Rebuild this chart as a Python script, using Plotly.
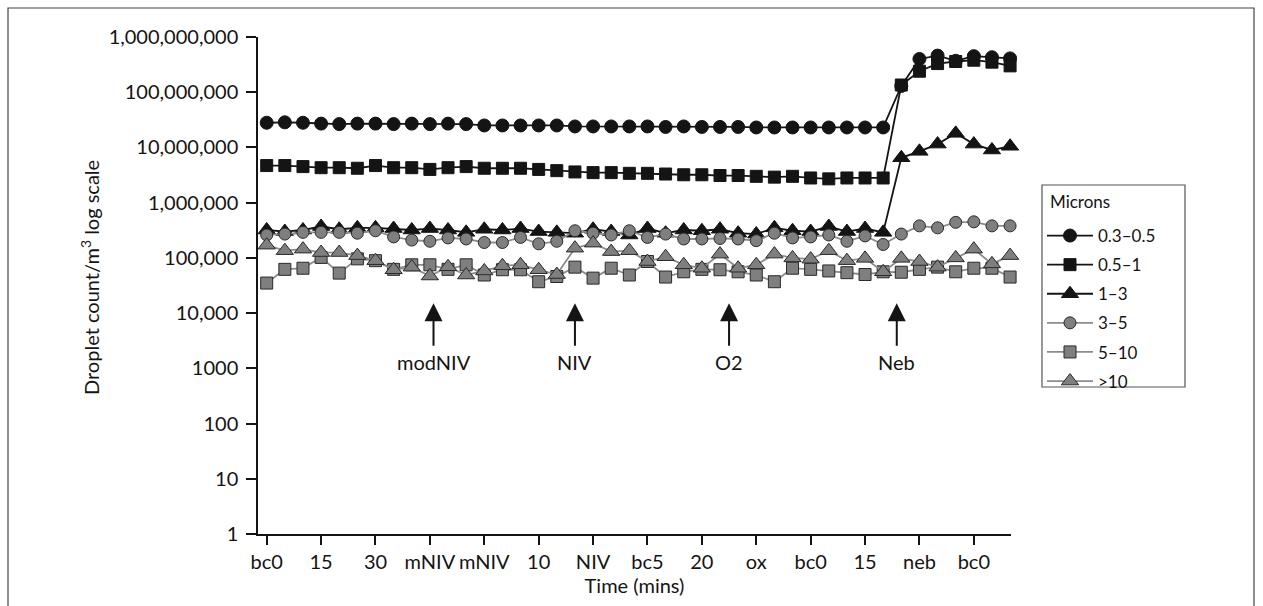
import plotly.graph_objects as go

# ---------------- data ----------------
tick_labels = ["bc0", "15", "30", "mNIV", "mNIV", "10", "NIV", "bc5", "20", "ox", "bc0", "15", "neb", "bc0"]
n_points = 42
x_idx = list(range(n_points))

s_03_05 = [2.8e7, 2.85e7, 2.8e7, 2.7e7, 2.65e7, 2.7e7, 2.7e7, 2.65e7, 2.7e7, 2.65e7,
           2.7e7, 2.65e7, 2.5e7, 2.5e7, 2.5e7, 2.5e7, 2.5e7, 2.4e7, 2.4e7, 2.4e7,
           2.4e7, 2.4e7, 2.35e7, 2.4e7, 2.35e7, 2.35e7, 2.35e7, 2.3e7, 2.3e7, 2.3e7,
           2.3e7, 2.3e7, 2.3e7, 2.3e7, 2.3e7, 1.3e8, 4.0e8, 4.6e8, 3.7e8, 4.5e8,
           4.3e8, 4.1e8]
s_05_1 = [4.7e6, 4.7e6, 4.5e6, 4.3e6, 4.3e6, 4.2e6, 4.7e6, 4.3e6, 4.3e6, 4.0e6,
          4.3e6, 4.5e6, 4.2e6, 4.2e6, 4.2e6, 4.0e6, 3.8e6, 3.6e6, 3.5e6, 3.5e6,
          3.4e6, 3.4e6, 3.3e6, 3.2e6, 3.2e6, 3.1e6, 3.1e6, 3.0e6, 2.9e6, 3.0e6,
          2.8e6, 2.7e6, 2.8e6, 2.8e6, 2.8e6, 1.35e8, 2.4e8, 3.3e8, 3.6e8, 3.8e8,
          3.5e8, 3.0e8]
s_1_3 = [3.2e5, 3.0e5, 3.2e5, 3.7e5, 3.3e5, 3.5e5, 3.5e5, 3.4e5, 3.2e5, 3.4e5,
         3.2e5, 2.9e5, 3.3e5, 3.2e5, 3.4e5, 3.0e5, 2.9e5, 2.8e5, 3.3e5, 3.0e5,
         2.6e5, 3.4e5, 2.8e5, 3.2e5, 3.1e5, 3.3e5, 2.8e5, 2.7e5, 3.5e5, 3.1e5,
         3.0e5, 3.7e5, 3.0e5, 3.4e5, 2.9e5, 6.5e6, 8.5e6, 1.15e7, 1.8e7, 1.15e7,
         9.0e6, 1.05e7]
s_3_5 = [2.6e5, 2.7e5, 2.9e5, 2.9e5, 2.9e5, 2.8e5, 3.1e5, 2.4e5, 2.1e5, 2.0e5,
         2.3e5, 2.2e5, 1.9e5, 1.9e5, 2.35e5, 1.8e5, 2.0e5, 3.1e5, 2.8e5, 2.6e5,
         3.1e5, 2.35e5, 2.7e5, 2.2e5, 2.2e5, 2.25e5, 2.2e5, 2.05e5, 2.8e5, 2.3e5,
         2.4e5, 2.6e5, 2.0e5, 2.5e5, 1.75e5, 2.7e5, 3.8e5, 3.5e5, 4.4e5, 4.5e5,
         3.8e5, 3.8e5]
s_5_10 = [3.5e4, 6.2e4, 6.5e4, 1.02e5, 5.3e4, 9.6e4, 8.9e4, 6.2e4, 7.5e4, 7.5e4,
          6.2e4, 7.5e4, 4.9e4, 6.1e4, 6.1e4, 3.7e4, 4.6e4, 6.8e4, 4.3e4, 6.5e4,
          4.9e4, 8.6e4, 4.5e4, 5.6e4, 6.2e4, 6.1e4, 5.6e4, 4.9e4, 3.7e4, 6.5e4,
          6.2e4, 5.8e4, 5.4e4, 5.0e4, 5.6e4, 5.5e4, 6.2e4, 6.8e4, 5.6e4, 6.5e4,
          6.5e4, 4.5e4]
s_gt10 = [1.7e5, 1.35e5, 1.44e5, 1.25e5, 1.25e5, 1.1e5, 8.9e4, 6.1e4, 6.8e4, 4.7e4,
          6.9e4, 4.9e4, 5.8e4, 7.2e4, 7.5e4, 6.1e4, 5.0e4, 1.5e5, 1.85e5, 1.3e5,
          1.35e5, 8.6e4, 1.05e5, 7.5e4, 6.5e4, 1.17e5, 6.5e4, 7.5e4, 1.17e5, 1.0e5,
          9.5e4, 1.35e5, 8.9e4, 9.8e4, 5.6e4, 9.8e4, 8.6e4, 6.8e4, 1.0e5, 1.44e5,
          7.8e4, 1.1e5]

series_names = ["0.3–0.5", "0.5–1", "1–3", "3–5", "5–10", ">10"]

y_tickvals = [1, 10, 100, 1000, 1e4, 1e5, 1e6, 1e7, 1e8, 1e9]
y_ticktext = ["1", "10", "100", "1000", "10,000", "100,000", "1,000,000",
              "10,000,000", "100,000,000", "1,000,000,000"]

event_labels = ["modNIV", "NIV", "O2", "Neb"]
event_x = [9.2, 17.0, 25.5, 34.75]

# ---------------- styling ----------------
FONT = "Lato, 'Open Sans', sans-serif"
W, H = 1263, 606
ML, MR, MT, MB = 258, 252, 37, 72
plot_w = W - ML - MR
plot_h = H - MT - MB
BLACK = "#141414"
GREY_FILL = "#7f7f7f"
GREY_LINE = "#8c8c8c"
FS = 20


def px_x(px):
    return (px - ML) / plot_w


def px_y(py):
    return (H - MB - py) / plot_h


styles = [
    dict(symbol="circle", size=13, color=BLACK, line_color=BLACK, lc=BLACK),
    dict(symbol="square", size=12, color=BLACK, line_color=BLACK, lc=BLACK),
    dict(symbol="triangle-up", size=15, color=BLACK, line_color=BLACK, lc=BLACK),
    dict(symbol="circle", size=12, color=GREY_FILL, line_color="#2a2a2a", lc=GREY_LINE),
    dict(symbol="square", size=12, color=GREY_FILL, line_color="#2a2a2a", lc=GREY_LINE),
    dict(symbol="triangle-up", size=15, color=GREY_FILL, line_color="#2a2a2a", lc=GREY_LINE),
]

all_series = [s_03_05, s_05_1, s_1_3, s_3_5, s_5_10, s_gt10]

fig = go.Figure()
for name, vals, st in zip(series_names, all_series, styles):
    fig.add_trace(go.Scatter(
        x=x_idx, y=vals, name=name, mode="lines+markers",
        line=dict(color=st["lc"], width=1.8),
        marker=dict(symbol=st["symbol"], size=st["size"], color=st["color"],
                    line=dict(color=st["line_color"], width=1)),
        cliponaxis=False, legendgroup=name,
    ))

# event arrows and labels
tip_log = 4.18
label_log = 3.12
for lab, xe in zip(event_labels, event_x):
    fig.add_annotation(x=xe, y=tip_log, xref="x", yref="y", text="",
                       showarrow=True, arrowhead=2, arrowsize=1.8, arrowwidth=2,
                       arrowcolor=BLACK, ax=0, ay=44, standoff=0)
    fig.add_annotation(x=xe, y=label_log, xref="x", yref="y", text=lab,
                       showarrow=False, font=dict(family=FONT, size=FS, color=BLACK))

# y-axis title as annotation
fig.add_annotation(xref="paper", yref="paper", x=px_x(90), y=px_y(278),
                   xanchor="center", yanchor="middle",
                   text="Droplet count/m<sup>3</sup> log scale", textangle=-90,
                   showarrow=False, font=dict(family=FONT, size=FS, color=BLACK))

# legend title and box
fig.add_annotation(xref="paper", yref="paper", x=px_x(1048), y=px_y(201),
                   xanchor="left", yanchor="middle", text="Microns",
                   showarrow=False, font=dict(family=FONT, size=17, color=BLACK))
fig.add_shape(type="rect", xref="paper", yref="paper",
              x0=px_x(1042), x1=px_x(1185), y0=px_y(387), y1=px_y(185),
              line=dict(color="#555", width=1.2))

# outer frame
fig.add_shape(type="rect", xref="paper", yref="paper",
              x0=px_x(8), x1=px_x(1254), y0=px_y(640), y1=px_y(8),
              line=dict(color="#444", width=1.2), layer="below")

fig.update_layout(
    width=W, height=H,
    margin=dict(l=ML, r=MR, t=MT, b=MB),
    paper_bgcolor="white", plot_bgcolor="white",
    font=dict(family=FONT, size=FS, color=BLACK),
    showlegend=True,
    legend=dict(
        x=px_x(1042), xanchor="left",
        y=px_y(218), yanchor="top",
        borderwidth=0, bgcolor="rgba(0,0,0,0)",
        font=dict(size=17), itemwidth=46, tracegroupgap=4,
    ),
    xaxis=dict(
        range=[-0.48, 41.05], tickmode="array",
        tickvals=[i * 3 for i in range(len(tick_labels))], ticktext=tick_labels,
        ticks="outside", ticklen=9, tickwidth=1.5, tickcolor=BLACK,
        showline=True, linecolor=BLACK, linewidth=1.5, showgrid=False, zeroline=False,
        tickfont=dict(size=FS), title=dict(text="Time (mins)", font=dict(size=FS), standoff=5),
    ),
    yaxis=dict(
        type="log", range=[0, 9], tickmode="array",
        tickvals=y_tickvals, ticktext=y_ticktext,
        ticks="outside", ticklen=10, tickwidth=1.5, tickcolor=BLACK,
        showline=True, linecolor=BLACK, linewidth=1.5, showgrid=False, zeroline=False,
        tickfont=dict(size=FS), ticklabelstandoff=4,
    ),
)

fig.write_html("out.html")
